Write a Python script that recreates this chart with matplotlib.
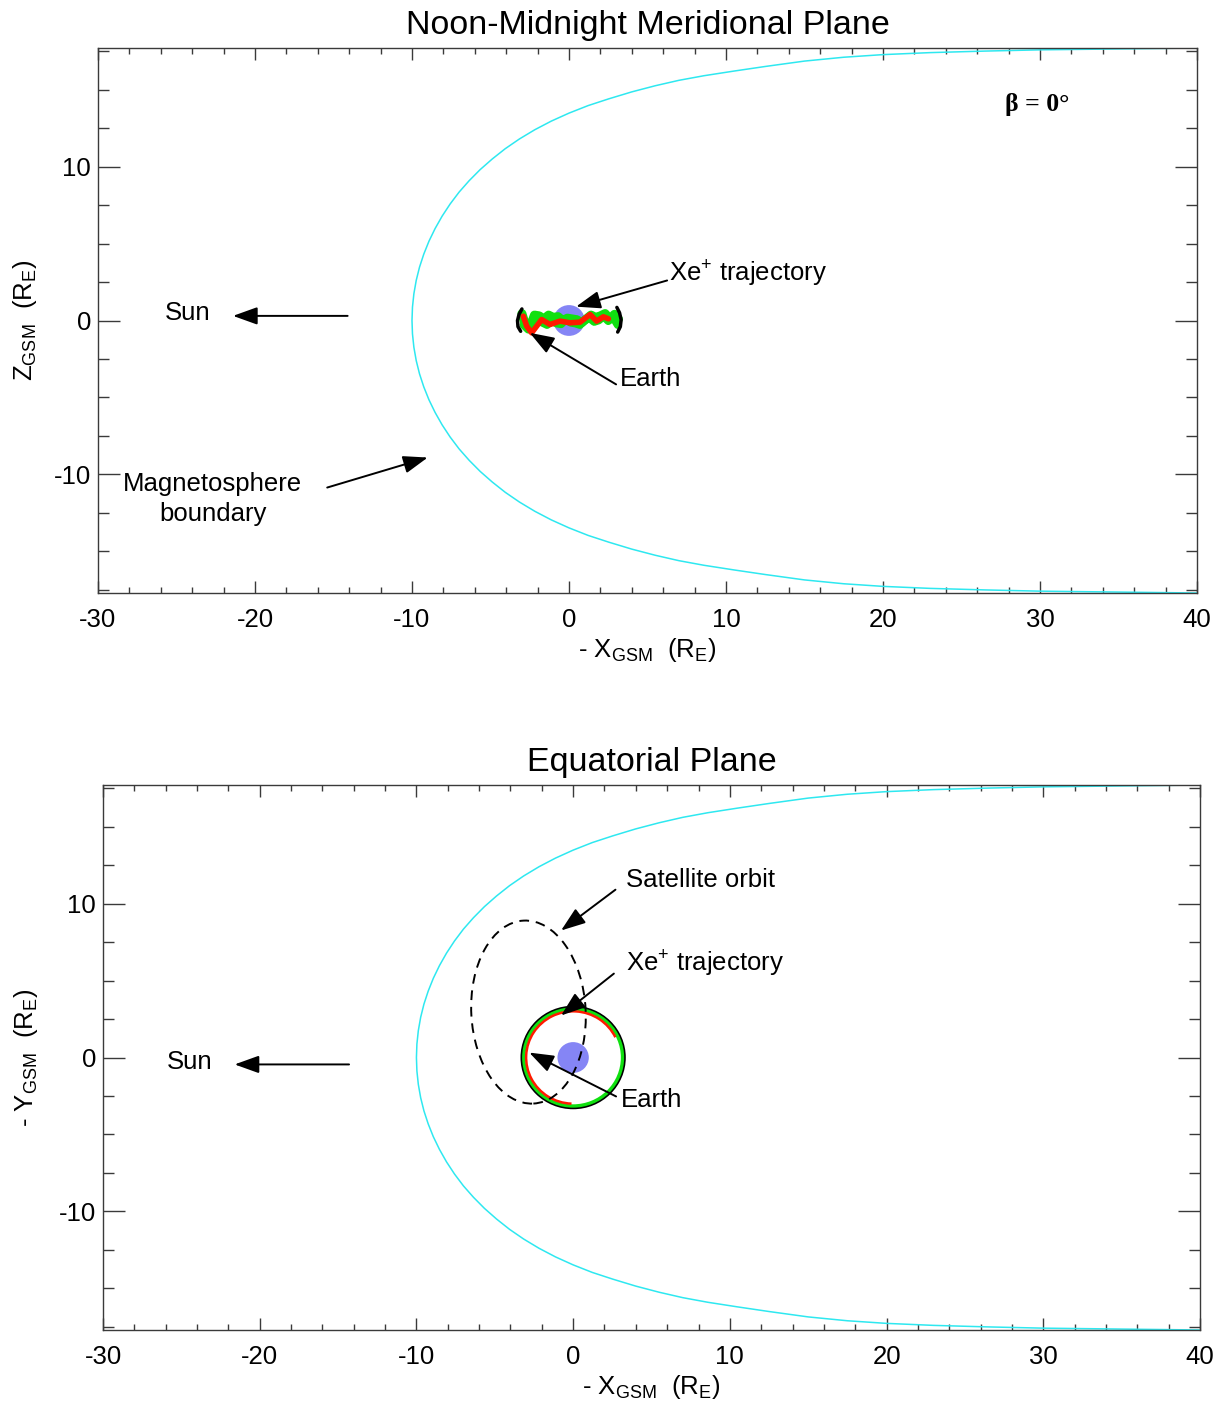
import matplotlib
matplotlib.use('Agg')
import matplotlib.pyplot as plt
from matplotlib.patches import Circle, Arc, Ellipse
import numpy as np

plt.rcParams['font.family'] = ['Liberation Sans', 'DejaVu Sans']
plt.rcParams['mathtext.fontset'] = 'custom'
plt.rcParams['mathtext.rm'] = 'Liberation Sans'
plt.rcParams['mathtext.it'] = 'Liberation Sans:italic'
plt.rcParams['axes.unicode_minus'] = False

# ---------------- data ----------------
x_ticks = [-30, -20, -10, 0, 10, 20, 30, 40]
y_ticks = [-10, 0, 10]

# magnetopause boundary, upper half
mp_x = [-10.0, -9.97, -9.88, -9.73, -9.52, -9.25, -8.92, -8.53, -8.08, -7.57,
        -7.0, -6.36, -5.66, -4.89, -4.06, -3.16, -2.18, -1.13, 0.0, 1.22, 2.54,
        4.0, 5.5, 7.0, 8.6, 10.5, 12.5, 15.0, 17.5, 20.0, 23.0, 26.5, 30.0, 35.0, 40.0]
mp_y = [0.0, 0.87, 1.74, 2.61, 3.47, 4.31, 5.15, 5.97, 6.78, 7.57,
        8.34, 9.08, 9.80, 10.49, 11.16, 11.79, 12.39, 12.95, 13.47, 13.96, 14.40,
        14.85, 15.25, 15.6, 15.9, 16.2, 16.5, 16.85, 17.1, 17.27, 17.4, 17.5, 17.58, 17.64, 17.7]

# Xe+ trajectory in the meridional plane
green1_x = [-3.0, -2.8, -2.5, -2.2, -1.9, -1.6, -1.3, -1.0, -0.7, -0.4, -0.1, 0.2,
            0.5, 0.8, 1.1, 1.4, 1.7, 2.0, 2.3, 2.6, 2.9, 3.15]
green1_z = [0.45, -0.2, -0.5, 0.35, 0.3, 0.1, 0.35, 0.2, 0.25, 0.0, 0.15, 0.1,
            0.05, -0.15, 0.1, 0.35, 0.2, 0.3, 0.45, 0.1, 0.4, 0.1]
green2_x = [-2.9, -2.6, -2.3, -2.0, -1.7, -1.4, -1.1, -0.8, -0.5, -0.2, 0.1, 0.4,
            0.7, 1.0, 1.3, 1.6, 1.9, 2.2, 2.5, 2.8, 3.1]
green2_z = [-0.3, -0.6, -0.2, 0.1, -0.15, -0.3, -0.05, -0.2, -0.25, 0.05, -0.15, -0.2,
            -0.3, 0.0, 0.15, -0.1, 0.0, 0.25, -0.05, 0.2, -0.3]
red_x = [-2.91, -2.69, -2.38, -2.06, -1.74, -1.21, -0.57, 0.06, 0.70, 1.34, 1.76, 2.19, 2.51]
red_z = [0.28, -0.37, -0.8, -0.37, 0.06, -0.26, -0.04, -0.15, -0.11, 0.39, -0.04, 0.24, 0.11]
blackL_x = [-3.0, -3.18, -3.28, -3.25, -3.08]
blackL_z = [0.75, 0.4, 0.0, -0.4, -0.7]
blackR_x = [3.05, 3.22, 3.32, 3.27, 3.1]
blackR_z = [0.85, 0.5, 0.05, -0.4, -0.75]

# Xe+ trajectory in the equatorial plane (radii in R_E, arc angles in deg)
ring_black_r = 3.28
ring_green_r = 3.15
ring_red_r = 3.0
ring_red_arc = [26, 268]

# satellite orbit ellipse (center x, center y, width, height, tilt deg)
orbit_cx, orbit_cy = -2.85, 2.95
orbit_w, orbit_h = 7.3, 11.9
orbit_tilt = 3

earth_r = 1.0

# --------------- figure ---------------
fig = plt.figure(figsize=(12.26, 14.05), dpi=100)
ax1 = fig.add_axes([98 / 1226, 1 - 593 / 1405, 1099 / 1226, 545 / 1405])
ax2 = fig.add_axes([103 / 1226, 1 - 1330 / 1405, 1097 / 1226, 545 / 1405])

spine_col = '#3a3a3a'
mp_col = '#2ee8f0'
earth_col = '#8585f5'
FS = 18.5


def style(ax, ylabel, ylab_x):
    ax.set_xlim(-30, 40)
    ax.set_ylim(-17.7, 17.7)
    ax.set_xticks(x_ticks)
    ax.set_yticks(y_ticks)
    ax.set_xticks(np.arange(-30, 41, 2), minor=True)
    ax.set_yticks(np.arange(-17.5, 17.6, 2.5), minor=True)
    ax.tick_params(axis='x', which='major', direction='in', length=8.6, width=1.0,
                   top=True, bottom=True, labelsize=FS, pad=11, color=spine_col)
    ax.tick_params(axis='x', which='minor', direction='in', length=4.5, width=1.0,
                   top=True, bottom=True, color=spine_col)
    ax.tick_params(axis='y', which='major', direction='in', length=16, width=1.0,
                   left=True, right=True, labelsize=FS, pad=5, color=spine_col)
    ax.tick_params(axis='y', which='minor', direction='in', length=8, width=1.0,
                   left=True, right=True, color=spine_col)
    for s in ax.spines.values():
        s.set_color(spine_col)
        s.set_linewidth(1.0)
    ax.set_xlabel(r'- X$_{\mathrm{GSM}}$  (R$_{\mathrm{E}}$)', fontsize=FS, labelpad=3)
    ax.set_ylabel(ylabel, fontsize=FS)
    ax.yaxis.set_label_coords(ylab_x, 0.5)
    bx = mp_x[::-1] + mp_x[1:]
    by = [-v for v in mp_y[::-1]] + mp_y[1:]
    ax.plot(bx, by, color=mp_col, lw=1.1, zorder=2)


def arrow(ax, tail, head):
    ax.annotate('', xy=head, xytext=tail,
                arrowprops=dict(arrowstyle='-|>,head_length=0.75,head_width=0.27',
                                mutation_scale=20, lw=1.4, color='black',
                                shrinkA=0, shrinkB=0), zorder=6)


# ---------- top panel ----------
style(ax1, r'Z$_{\mathrm{GSM}}$  (R$_{\mathrm{E}}$)', -0.054)
ax1.set_title('Noon-Midnight Meridional Plane', fontsize=24.5, pad=10)
ax1.add_patch(Circle((0, 0), earth_r, color=earth_col, zorder=3, lw=0))
ax1.plot(green1_x, green1_z, color='#10e010', lw=6.5, zorder=4, solid_capstyle='round')
ax1.plot(green2_x, green2_z, color='#10e010', lw=5.5, zorder=4, solid_capstyle='round')
ax1.plot(red_x, red_z, color='#ff1a00', lw=4, zorder=5, solid_capstyle='round')
ax1.plot(blackL_x, blackL_z, color='black', lw=2.5, zorder=5, solid_capstyle='round')
ax1.plot(blackR_x, blackR_z, color='black', lw=2.5, zorder=5, solid_capstyle='round')

ax1.text(-24.3, 0.5, 'Sun', fontsize=FS, ha='center', va='center')
arrow(ax1, (-14.1, 0.3), (-21.4, 0.3))
ax1.text(6.4, 3.0, r'Xe$^{+}$ trajectory', fontsize=FS, ha='left', va='center')
arrow(ax1, (6.25, 2.6), (0.45, 0.9))
ax1.text(3.25, -3.8, 'Earth', fontsize=FS, ha='left', va='center')
arrow(ax1, (3.0, -4.15), (-2.5, -0.8))
ax1.text(-22.7, -11.6, 'Magnetosphere\nboundary', fontsize=FS, ha='center',
         va='center', linespacing=1.3)
arrow(ax1, (-15.4, -10.85), (-9.0, -8.9))
ax1.text(29.8, 14.0, r'β = 0°', fontsize=18.5, ha='center', va='center',
         family=['Liberation Serif', 'DejaVu Serif'], fontweight='bold')

# ---------- bottom panel ----------
style(ax2, r'- Y$_{\mathrm{GSM}}$  (R$_{\mathrm{E}}$)', -0.057)
ax2.set_title('Equatorial Plane', fontsize=24.5, pad=10)
ax2.add_patch(Circle((0, 0), earth_r, color=earth_col, zorder=3, lw=0))
ax2.add_patch(Circle((0, 0), ring_black_r, fill=False, ec='black', lw=1.8, zorder=4))
ax2.add_patch(Circle((0, 0), ring_green_r, fill=False, ec='#10e010', lw=2.4, zorder=4))
ax2.add_patch(Arc((0, 0), 2 * ring_red_r, 2 * ring_red_r, theta1=ring_red_arc[0],
                  theta2=ring_red_arc[1], ec='#ff1a00', lw=1.8, zorder=5))
ax2.add_patch(Ellipse((orbit_cx, orbit_cy), orbit_w, orbit_h, angle=orbit_tilt,
                      fill=False, ec='black', lw=1.4, ls=(0, (5, 3.5)), zorder=5))

ax2.text(-24.5, -0.26, 'Sun', fontsize=FS, ha='center', va='center')
arrow(ax2, (-14.3, -0.45), (-21.6, -0.45))
ax2.text(3.4, 11.56, 'Satellite orbit', fontsize=FS, ha='left', va='center')
arrow(ax2, (2.7, 10.9), (-0.77, 8.25))
ax2.text(3.4, 6.1, r'Xe$^{+}$ trajectory', fontsize=FS, ha='left', va='center')
arrow(ax2, (2.6, 5.45), (-0.77, 2.73))
ax2.text(3.06, -2.73, 'Earth', fontsize=FS, ha='left', va='center')
arrow(ax2, (2.74, -2.53), (-2.8, 0.32))

fig.savefig('out.png', dpi=100)
